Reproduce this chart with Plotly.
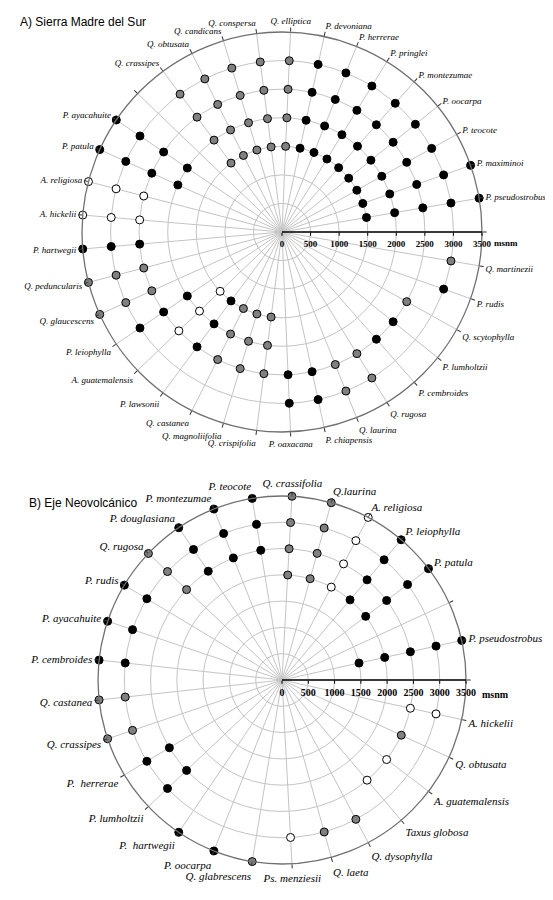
import plotly.graph_objects as go

# ---- A) Sierra Madre del Sur : 37 slots, slot 0 = axis, one empty slot ----
species_a = [
    " ", "P. pseudostrobus", "P. maximinoi", "P. teocote", "P. oocarpa",
    "P. montezumae", "P. pringlei", "P. herrerae", "P. devoniana",
    "Q. elliptica", "Q. conspersa", "Q. candicans", "Q. obtusata",
    "Q. crassipes", "  ", "P. ayacahuite", "P. patula", "A. religiosa",
    "A. hickelii", "P. hartwegii", "Q. peduncularis", "Q. glaucescens",
    "P. leiophylla", "A. guatemalensis", "P. lawsonii", "Q. castanea",
    "Q. magnoliifolia", "Q. crispifolia", "P. oaxacana", "P. chiapensis",
    "Q. laurina", "Q. rugosa", "P. cembroides", "P. lumholtzii",
    "Q. scytophylla", "P. rudis", "Q. martinezii",
]
group_a = [
    "", "P", "P", "P", "P", "P", "P", "P", "P",
    "Q", "Q", "Q", "Q", "Q", "", "P", "P", "A",
    "A", "P", "Q", "Q", "P", "A", "P", "Q",
    "Q", "Q", "P", "P", "Q", "Q", "P", "P",
    "Q", "P", "Q",
]
elev_a = [
    [], [1500, 2000, 2500, 3000, 3500], [1500, 2000, 2500, 3000, 3500],
    [1500, 2000, 2500, 3000], [1500, 2000, 2500, 3000],
    [1500, 2000, 2500, 3000], [1500, 2000, 2500, 3000],
    [1500, 2000, 2500, 3000], [1500, 2000, 2500, 3000],
    [1500, 2000, 2500, 3000], [1500, 2000, 2500, 3000],
    [1500, 2000, 2500, 3000], [1500, 2000, 2500, 3000],
    [1500, 2000, 2500, 3000], [],
    [2000, 2500, 3000, 3500], [2000, 2500, 3000, 3500],
    [2500, 3000, 3500], [2500, 3000, 3500], [2500, 3000, 3500],
    [2500, 3000, 3500], [2500, 3000, 3500], [2000, 2500, 3000],
    [1500, 2000, 2500], [1500, 2000, 2500], [1500, 2000, 2500],
    [1500, 2000, 2500], [1500, 2000, 2500],
    [2500, 3000], [2500, 3000], [2500, 3000], [2500, 3000],
    [2500], [2500], [2500], [3000], [3000],
]

# ---- B) Eje Neovolcánico : 29 slots, slot 0 = axis, one empty slot ----
species_b = [
    " ", "P. pseudostrobus", "  ", "P. patula", "P. leiophylla",
    "A. religiosa", "Q.laurina", "Q. crassifolia", "P. teocote",
    "P. montezumae", "P. douglasiana", "Q. rugosa", "P. rudis",
    "P. ayacahuite", "P. cembroides", "Q. castanea", "Q. crassipes",
    "P.  herrerae", "P. lumholtzii", "P.  hartwegii", "P. oocarpa",
    "Q. glabrescens", "Ps. menziesii", "Q. laeta", "Q. dysophylla",
    "Taxus globosa", "A. guatemalensis", "Q. obtusata", "A. hickelii",
]
group_b = [
    "", "P", "", "P", "P", "A", "Q", "Q", "P",
    "P", "P", "Q", "P", "P", "P", "Q", "Q",
    "P", "P", "P", "P", "Q", "A", "Q", "Q",
    "A", "A", "Q", "A",
]
elev_b = [
    [], [1500, 2000, 2500, 3000, 3500], [],
    [2000, 2500, 3000, 3500], [2000, 2500, 3000, 3500],
    [2000, 2500, 3000, 3500], [2000, 2500, 3000, 3500],
    [2000, 2500, 3000, 3500], [2500, 3000, 3500], [2500, 3000, 3500],
    [2500, 3000, 3500], [2500, 3000, 3500], [3000, 3500], [3000, 3500],
    [3000, 3500], [3000, 3500], [3000, 3500], [2500, 3000], [2500, 3000],
    [3500], [3500], [3500], [3000], [3000], [3000],
    [2500], [2500], [2500], [2500, 3000],
]

radial_ticks = [0, 500, 1000, 1500, 2000, 2500, 3000, 3500]
fills = {"P": "#000000", "Q": "#808080", "A": "#ffffff"}

# page body has an 8px margin, so the figure is drawn 8px smaller
W, H = 545, 892

fig = go.Figure()


def add_points(species, groups, elevs, subplot, size):
    for g, col in fills.items():
        th, rr = [], []
        for s, gg, ev in zip(species, groups, elevs):
            if gg != g:
                continue
            for e in ev:
                th.append(s)
                rr.append(e)
        fig.add_trace(go.Scatterpolar(
            theta=th, r=rr, mode="markers", subplot=subplot,
            marker=dict(size=size, color=col, line=dict(color="black", width=1)),
            showlegend=False, cliponaxis=False
        ))


add_points(species_a, group_a, elev_a, "polar", 8)
add_points(species_b, group_b, elev_b, "polar2", 8)


def polar_style(species, cx, cy, rad, lab_size, num_size):
    # cx, cy, rad in screen pixels of the reference page
    x0, y0 = cx - 8, cy - 8
    return dict(
        domain=dict(x=[(x0 - rad) / W, (x0 + rad) / W],
                    y=[(H - y0 - rad) / H, (H - y0 + rad) / H]),
        bgcolor="white",
        angularaxis=dict(
            type="category", categoryorder="array", categoryarray=species,
            direction="counterclockwise", rotation=0,
            showline=True, linecolor="#707070", linewidth=1.3,
            gridcolor="#c4c4c4", gridwidth=1,
            ticks="outside", ticklen=4, tickcolor="#333",
            tickfont=dict(family="Liberation Serif", size=lab_size,
                          style="italic", color="black"),
        ),
        radialaxis=dict(
            range=[0, 3500], tickmode="array", tickvals=radial_ticks,
            angle=0, showline=True, linecolor="black", linewidth=1.5,
            gridcolor="#c4c4c4", gridwidth=1,
            ticks="outside", ticklen=3, tickcolor="black",
            tickfont=dict(family="Liberation Serif", size=num_size,
                          weight="bold", color="black"),
        ),
    )


def px(x, y):
    return (x - 8) / W, 1 - (y - 8) / H


ax, ay = px(18, 22)
bx, by = px(27, 503)
mx1, my1 = px(492, 243)
mx2, my2 = px(480, 694)

fig.update_layout(
    width=W, height=H,
    margin=dict(l=0, r=0, t=0, b=0),
    paper_bgcolor="white",
    polar=polar_style(species_a, 282, 232, 200, 9, 9),
    polar2=polar_style(species_b, 282, 680, 184, 11, 10),
    annotations=[
        dict(text="A) Sierra Madre del Sur", x=ax, y=ay, xref="paper", yref="paper",
             xanchor="left", yanchor="middle", showarrow=False,
             font=dict(family="Liberation Sans", size=12, color="black")),
        dict(text="B) Eje Neovolcánico", x=bx, y=by, xref="paper", yref="paper",
             xanchor="left", yanchor="middle", showarrow=False,
             font=dict(family="Liberation Sans", size=12, color="black")),
        dict(text="msnm", x=mx1, y=my1, xref="paper", yref="paper",
             xanchor="left", yanchor="middle", showarrow=False,
             font=dict(family="Liberation Serif", size=9, weight="bold", color="black")),
        dict(text="msnm", x=mx2, y=my2, xref="paper", yref="paper",
             xanchor="left", yanchor="middle", showarrow=False,
             font=dict(family="Liberation Serif", size=10, weight="bold", color="black")),
    ],
)

fig.write_html("out.html")
